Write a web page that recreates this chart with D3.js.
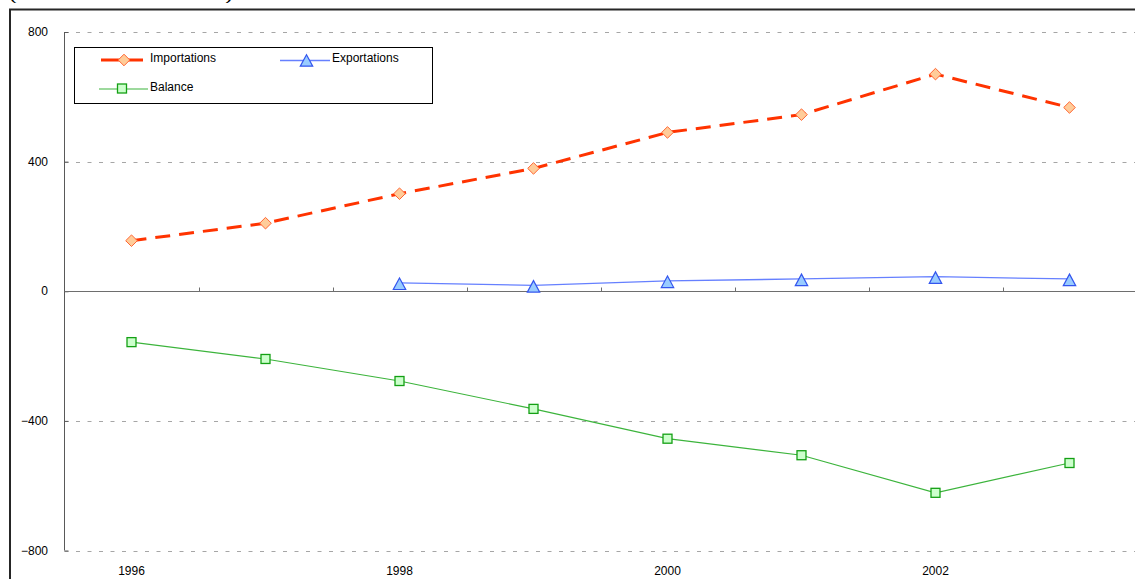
<!DOCTYPE html>
<html>
<head>
<meta charset="utf-8">
<script src="https://cdn.jsdelivr.net/npm/d3@7"></script>
<style>
  html, body { margin: 0; padding: 0; background: #fff; }
  svg { display: block; }
  text { font-family: Arial, "Liberation Sans", sans-serif; fill: #000; }
</style>
</head>
<body>
<svg id="chart" width="1135" height="579"></svg>
<script>
// ---- data ----
const years = ["1996", "1997", "1998", "1999", "2000", "2001", "2002", "2003"];
const importations = [156, 210, 301, 379, 490, 545, 670, 567];
const exportations = [null, null, 26, 18, 32, 38, 45, 38];
const balance = [-157, -209, -277, -363, -455, -506, -622, -530];
const yTicks = [-800, -400, 0, 400, 800];
const xLabelYears = ["1996", "1998", "2000", "2002"];
const titleText = "(en millions de dollars)";

// ---- layout ----
const svg = d3.select("#chart");
const plot = { left: 64.5, right: 1136.5, top: 32, bottom: 550.5 };

const x = d3.scaleBand().domain(years).range([plot.left, plot.right]).padding(0);
const cx = d => x(d) + x.bandwidth() / 2;
const y = d3.scaleLinear().domain([-800, 800]).range([plot.bottom, plot.top]);

// title (cut off at top, as in the reference)
svg.append("text")
  .attr("x", 9).attr("y", 0)
  .attr("font-size", 13)
  .attr("textLength", 224)
  .attr("lengthAdjust", "spacingAndGlyphs")
  .text(titleText);

// outer frame
svg.append("path")
  .attr("d", `M10,580 L10,9.5 L1140,9.5`)
  .attr("fill", "none").attr("stroke", "#262626").attr("stroke-width", 2);

// gridlines (dashed)
const gridVals = yTicks.filter(v => v !== 0);
svg.append("g").selectAll("line").data(gridVals).join("line")
  .attr("x1", plot.left).attr("x2", plot.right)
  .attr("y1", d => Math.round(y(d)) + 0.5).attr("y2", d => Math.round(y(d)) + 0.5)
  .attr("stroke", "#a6a6a6").attr("stroke-width", 1)
  .attr("stroke-dasharray", "4,7.5");

// y axis
const yAxis = d3.axisRight(y).tickValues(yTicks).tickSize(4).tickFormat("");
const gy = svg.append("g").attr("transform", `translate(${plot.left},0)`).call(yAxis);
gy.select(".domain").attr("stroke", "#595959").attr("d", `M0,${plot.top}V${plot.bottom}`);
gy.selectAll(".tick line").attr("stroke", "#595959");

// y labels
svg.append("g").selectAll("text").data(yTicks).join("text")
  .attr("x", 48).attr("y", d => y(d))
  .attr("dy", "0.35em")
  .attr("text-anchor", "end")
  .attr("font-size", 12)
  .text(d => d3.format("d")(d));

// x axis at zero with ticks at band boundaries
const y0 = Math.round(y(0)) + 0.5;
svg.append("line")
  .attr("x1", plot.left).attr("x2", plot.right)
  .attr("y1", y0).attr("y2", y0)
  .attr("stroke", "#6e6e6e").attr("stroke-width", 1);
svg.append("g").selectAll("line").data(years.slice(1)).join("line")
  .attr("x1", d => Math.round(x(d)) + 0.5).attr("x2", d => Math.round(x(d)) + 0.5)
  .attr("y1", y0).attr("y2", y0 - 4)
  .attr("stroke", "#6e6e6e").attr("stroke-width", 1);

// x labels at bottom
svg.append("g").selectAll("text").data(xLabelYears).join("text")
  .attr("x", d => cx(d)).attr("y", 575)
  .attr("text-anchor", "middle")
  .attr("font-size", 12)
  .text(d => d);

// ---- series ----
const line = d3.line()
  .defined(d => d.v !== null)
  .x(d => cx(d.year)).y(d => y(d.v));

const impData = years.map((yr, i) => ({ year: yr, v: importations[i] }));
const expData = years.map((yr, i) => ({ year: yr, v: exportations[i] }));
const balData = years.map((yr, i) => ({ year: yr, v: balance[i] }));

svg.append("path").datum(balData)
  .attr("d", line).attr("fill", "none")
  .attr("stroke", "#3cb43c").attr("stroke-width", 1.2);
svg.append("path").datum(expData)
  .attr("d", line).attr("fill", "none")
  .attr("stroke", "#6680ff").attr("stroke-width", 1.3);
svg.append("path").datum(impData)
  .attr("d", line).attr("fill", "none")
  .attr("stroke", "#ff3300").attr("stroke-width", 3)
  .attr("stroke-dasharray", "15,9");

// markers
function diamond(g, px, py) {
  const r = 5.8;
  g.append("path")
    .attr("d", `M${px},${py - r}L${px + r},${py}L${px},${py + r}L${px - r},${py}Z`)
    .attr("fill", "#ffcc99").attr("stroke", "#ff6633").attr("stroke-width", 1);
}
function triangle(g, px, py) {
  const w = 6.2, h = 11.5;
  g.append("path")
    .attr("d", `M${px},${py - h * 0.55}L${px + w},${py + h * 0.45}L${px - w},${py + h * 0.45}Z`)
    .attr("fill", "#99ccff").attr("stroke", "#3355ee").attr("stroke-width", 1.2);
}
function square(g, px, py) {
  const s = 9;
  g.append("rect")
    .attr("x", px - s / 2).attr("y", py - s / 2).attr("width", s).attr("height", s)
    .attr("fill", "#ccffcc").attr("stroke", "#14a014").attr("stroke-width", 1.3);
}

const mk = svg.append("g");
balData.forEach(d => square(mk, cx(d.year), y(d.v)));
expData.filter(d => d.v !== null).forEach(d => triangle(mk, cx(d.year), y(d.v) + 1.5));
impData.forEach(d => diamond(mk, cx(d.year), y(d.v)));

// ---- legend ----
const lg = svg.append("g");
lg.append("rect")
  .attr("x", 74.5).attr("y", 47.5).attr("width", 358).attr("height", 56)
  .attr("fill", "#fff").attr("stroke", "#000").attr("stroke-width", 1);

lg.append("line").attr("x1", 101).attr("x2", 143).attr("y1", 60).attr("y2", 60)
  .attr("stroke", "#ff3300").attr("stroke-width", 3);
diamond(lg, 124, 60);
lg.append("text").attr("x", 150).attr("y", 58).attr("dy", "0.35em")
  .attr("font-size", 12).text("Importations");

lg.append("line").attr("x1", 280).attr("x2", 330).attr("y1", 60.5).attr("y2", 60.5)
  .attr("stroke", "#6680ff").attr("stroke-width", 1.3);
triangle(lg, 306.5, 61);
lg.append("text").attr("x", 332).attr("y", 57.5).attr("dy", "0.35em")
  .attr("font-size", 12).text("Exportations");

lg.append("line").attr("x1", 99).attr("x2", 148).attr("y1", 89).attr("y2", 89)
  .attr("stroke", "#3cb43c").attr("stroke-width", 1.2);
square(lg, 122, 88.5);
lg.append("text").attr("x", 150).attr("y", 86.5).attr("dy", "0.35em")
  .attr("font-size", 12).text("Balance");
</script>
</body>
</html>
